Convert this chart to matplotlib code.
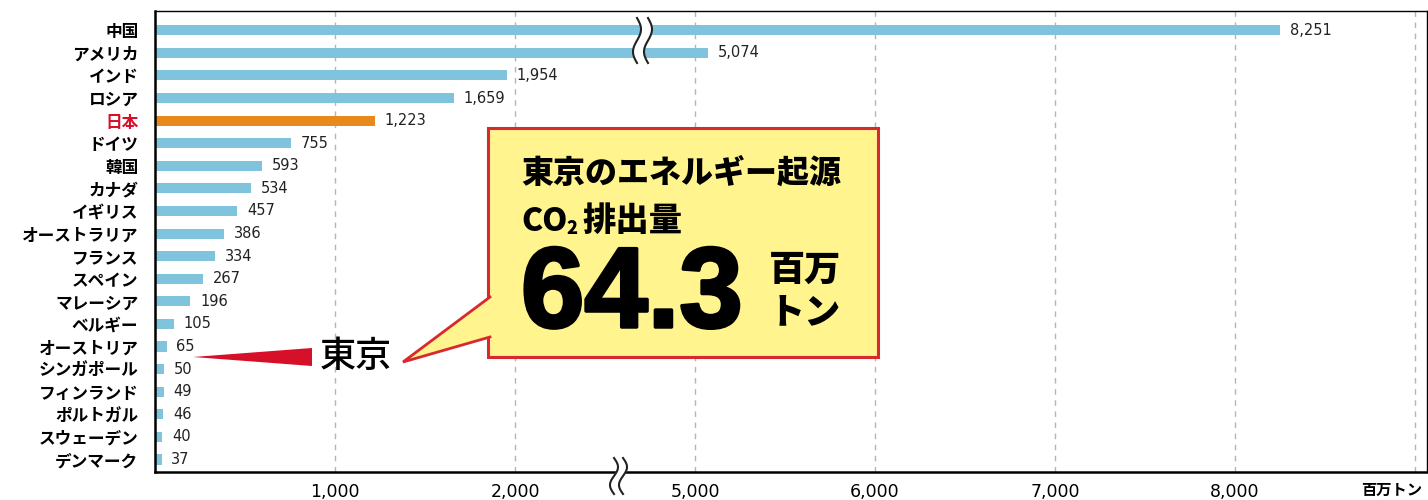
import matplotlib
matplotlib.use("Agg")
import matplotlib.pyplot as plt
from matplotlib.patches import Polygon, Rectangle
import matplotlib.patheffects as pe
import numpy as np

plt.rcParams['font.family'] = ['Noto Sans CJK JP', 'DejaVu Sans']

# データ (百万トン)
countries = ['中国', 'アメリカ', 'インド', 'ロシア', '日本', 'ドイツ', '韓国', 'カナダ',
             'イギリス', 'オーストラリア', 'フランス', 'スペイン', 'マレーシア', 'ベルギー',
             'オーストリア', 'シンガポール', 'フィンランド', 'ポルトガル', 'スウェーデン', 'デンマーク']
values = [8251, 5074, 1954, 1659, 1223, 755, 593, 534, 457, 386,
          334, 267, 196, 105, 65, 50, 49, 46, 40, 37]
tick_values = [1000, 2000, 5000, 6000, 7000, 8000, 9000]
tick_labels = ['1,000', '2,000', '5,000', '6,000', '7,000', '8,000', '']
tokyo = 64.3

# 軸の省略 (2,600〜4,600 をカット)
BREAK = 2600
SHIFT = 2000

def pos(v):
    return v if v < BREAK else v - SHIFT

W, H = 1428, 500
fig = plt.figure(figsize=(W / 100, H / 100), dpi=100)
ax = fig.add_axes([155 / W, 1 - 472 / H, (1427 - 155) / W, (472 - 11) / H])

blue = '#7fc3dc'
orange = '#e8891c'
red = '#d7102a'
num_font = ['DejaVu Sans']

y = list(range(len(countries)))
colors = [orange if c == '日本' else blue for c in countries]
ax.barh(y, [pos(v) for v in values], height=0.45, color=colors, zorder=2)

for i, v in enumerate(values):
    ax.annotate(f'{v:,}', (pos(v), i), xytext=(7, 0), textcoords='offset points',
                va='center', ha='left', fontsize=10.5, family=num_font,
                color='#222222', zorder=3)

ax.set_xlim(0, (1427 - 155) / 180 * 1000)
ax.set_ylim(len(countries) - 1 + 0.55, -0.85)
ax.set_yticks(y)
ax.set_yticklabels(countries, fontsize=12, fontweight='bold')
for lab in ax.get_yticklabels():
    if lab.get_text() == '日本':
        lab.set_color(red)
ax.set_xticks([pos(t) for t in tick_values])
ax.set_xticklabels(tick_labels, fontsize=12.5, family=num_font)
ax.tick_params(axis='both', length=0)
ax.tick_params(axis='y', pad=12)
ax.tick_params(axis='x', pad=8)
ax.grid(axis='x', color='#b5b5b5', linestyle=(0, (4, 4)), linewidth=1, zorder=1)
for s in ['top', 'right']:
    ax.spines[s].set_linewidth(1.0)
for s in ['left', 'bottom']:
    ax.spines[s].set_linewidth(1.8)

fig.text(1392 / W, 1 - 490 / H, '百万トン', fontsize=11, fontweight='bold',
         ha='center', va='center')

# 装飾用のピクセル座標オーバーレイ
ov = fig.add_axes([0, 0, 1, 1], zorder=5)
ov.set_xlim(0, W)
ov.set_ylim(H, 0)
ov.axis('off')
ov.patch.set_alpha(0)

def wave(x0, y0, y1):
    t = np.linspace(0, 1, 60)
    return x0 + 4 * np.sin(t * 2 * np.pi), y0 + (y1 - y0) * t

# 上の省略記号
xa, ya = wave(637, 18, 63)
xb, yb = wave(648, 18, 63)
ov.fill(np.concatenate([xa, xb[::-1]]), np.concatenate([ya, yb[::-1]]), color='white', zorder=1)
ov.plot(xa, ya, color='#222222', lw=1.5)
ov.plot(xb, yb, color='#222222', lw=1.5)
# 下の省略記号
xa, ya = wave(614, 458, 494)
xb, yb = wave(623, 458, 494)
ov.fill(np.concatenate([xa, xb[::-1]]), np.concatenate([ya, yb[::-1]]), color='white', zorder=1)
ov.plot(xa, ya, color='#222222', lw=1.5)
ov.plot(xb, yb, color='#222222', lw=1.5)

# 東京の赤い指示
ov.add_patch(Polygon([(193, 357), (312, 348), (312, 366)], closed=True, color=red, lw=0))
ov.text(320, 357, '東京', fontsize=26, fontweight='medium', ha='left', va='center')

# 吹き出し
yellow = '#fff48e'
bred = '#d9282e'
ov.add_patch(Rectangle((488, 128), 390, 229, facecolor=yellow, edgecolor=bred, lw=2.2))
ov.add_patch(Polygon([(491, 297), (403, 362), (491, 337)], closed=True, facecolor=yellow, lw=0))
ov.plot([490, 403, 490], [297, 362, 337], color=bred, lw=2.0, solid_joinstyle='miter')

ov.text(521, 173, '東京のエネルギー起源', fontsize=23, fontweight='black', ha='left', va='center')
ov.text(521, 221, 'CO', fontsize=23, fontweight='black', ha='left', va='center')
ov.text(566, 228, '2', fontsize=13, fontweight='black', ha='left', va='center')
ov.text(582, 221, '排出量', fontsize=24, fontweight='black', ha='left', va='center')
ov.text(521, 327, f'{tokyo}', fontsize=82, fontweight='bold', family=['Liberation Sans'],
        ha='left', va='baseline',
        path_effects=[pe.withStroke(linewidth=2.5, foreground='black')])
ov.text(805, 270, '百万', fontsize=26, fontweight='black', ha='center', va='center')
ov.text(805, 312, 'トン', fontsize=26, fontweight='black', ha='center', va='center')

fig.savefig('out.png', dpi=100)
